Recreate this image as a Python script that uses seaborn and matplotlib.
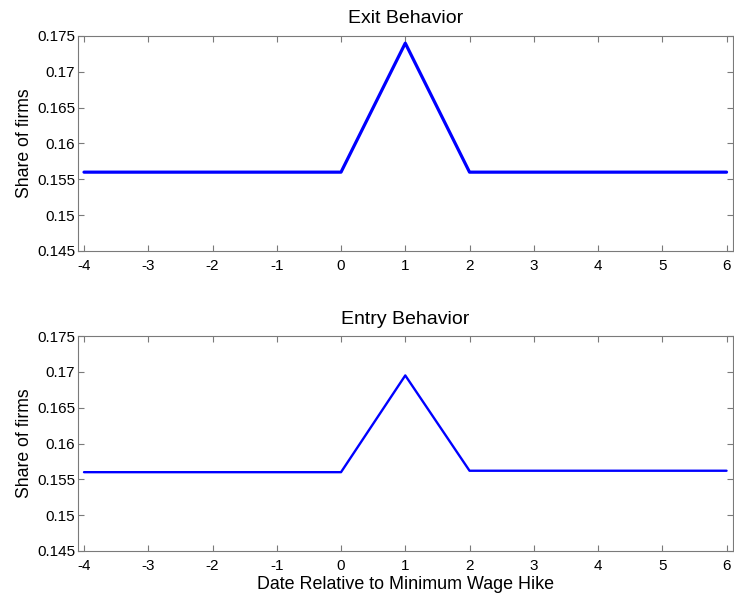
import pandas as pd
import matplotlib
matplotlib.use("Agg")
import matplotlib.pyplot as plt
import seaborn as sns

# Data
dates = [-4, -3, -2, -1, 0, 1, 2, 3, 4, 5, 6]
exit_share = [0.156, 0.156, 0.156, 0.156, 0.156, 0.174, 0.156, 0.156, 0.156, 0.156, 0.156]
entry_share = [0.156, 0.156, 0.156, 0.156, 0.156, 0.1695, 0.1562, 0.1562, 0.1562, 0.1562, 0.1562]
y_ticks = [0.145, 0.15, 0.155, 0.16, 0.165, 0.17, 0.175]
y_labels = ["0.145", "0.15", "0.155", "0.16", "0.165", "0.17", "0.175"]

sns.set_style("ticks")
plt.rcParams["font.family"] = ["Liberation Sans", "DejaVu Sans"]
plt.rcParams["text.color"] = "black"
plt.rcParams["axes.labelcolor"] = "black"
plt.rcParams["axes.edgecolor"] = "#7a7a7a"
plt.rcParams["xtick.color"] = "#7a7a7a"
plt.rcParams["ytick.color"] = "#7a7a7a"
plt.rcParams["xtick.labelcolor"] = "black"
plt.rcParams["ytick.labelcolor"] = "black"

fig = plt.figure(figsize=(7.34, 6.01), dpi=100)
ax1 = fig.add_axes([0.1063, 0.5824, 0.8923, 0.3577])
ax2 = fig.add_axes([0.1063, 0.0832, 0.8923, 0.3577])

df = pd.DataFrame({"date": dates, "exit": exit_share, "entry": entry_share})

panels = [(ax1, "exit", "Exit Behavior", 2.3), (ax2, "entry", "Entry Behavior", 1.7)]
for ax, col, title, lw in panels:
    sns.lineplot(data=df, x="date", y=col, ax=ax, color="#0000ff", linewidth=lw)
    ax.set_xlim(-4.093, 6.1)
    ax.set_ylim(0.145, 0.175)
    ax.set_xticks(dates)
    ax.set_xticklabels([str(d) for d in dates], fontsize=11)
    ax.set_yticks(y_ticks)
    ax.set_yticklabels(y_labels, fontsize=11)
    ax.tick_params(direction="in", top=True, right=True, length=4, width=0.8)
    ax.tick_params(axis="x", pad=6)
    ax.tick_params(axis="y", pad=2)
    for s in ax.spines.values():
        s.set_visible(True)
        s.set_linewidth(0.8)
    ax.set_title(title, fontsize=14, pad=9)
    ax.set_ylabel("Share of firms", fontsize=12.7, labelpad=3)
    ax.set_xlabel("")

ax2.set_xlabel("Date Relative to Minimum Wage Hike", fontsize=12.9, labelpad=2)

fig.savefig("out.png", dpi=100)
